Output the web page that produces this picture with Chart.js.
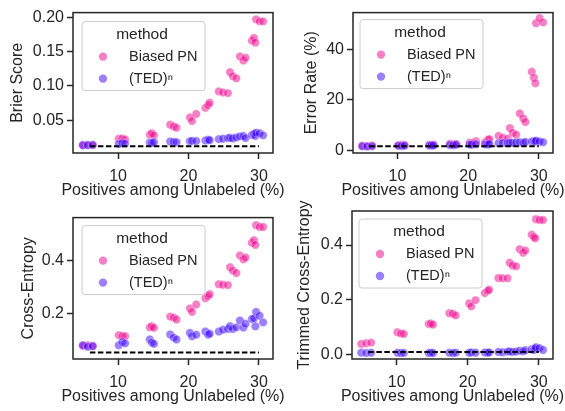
<!DOCTYPE html>
<html>
<head>
<meta charset="utf-8">
<script src="https://cdn.jsdelivr.net/npm/chart.js@4.4.1/dist/chart.umd.min.js"></script>
<style>
  html, body { margin: 0; padding: 0; background: #fff; }
  #wrap { position: relative; width: 565px; height: 411px; }
  canvas { position: absolute; }
</style>
</head>
<body>
<div id="wrap">
  <canvas id="brier" width="292" height="205" style="left:0;top:0"></canvas>
  <canvas id="error" width="283" height="205" style="left:282px;top:0"></canvas>
  <canvas id="ce" width="292" height="206" style="left:0;top:205px"></canvas>
  <canvas id="tce" width="283" height="226" style="left:282px;top:185px"></canvas>
</div>
<script>
// positives among unlabeled (%) for each run, shared by both methods
const posUnlabeled = [
  5.0, 5.7, 6.4, 10.1, 10.6, 11.0, 14.5, 14.8, 15.1, 17.4, 17.9, 18.3,
  20.2, 20.5, 21.1, 22.4, 22.8, 23.0, 24.3, 24.9, 25.6, 25.9, 26.3, 26.8,
  27.3, 27.8, 28.1, 29.0, 29.3, 29.5, 29.6, 30.1, 30.6
];

const methods = ["Biased PN", "(TED)ⁿ"];

const brierPN = [
  0.014, 0.0135, 0.0145, 0.023, 0.0235, 0.022, 0.029, 0.031, 0.028, 0.0435, 0.041, 0.039,
  0.054, 0.049, 0.059, 0.068, 0.072, 0.0755, 0.092, 0.0905, 0.0895, 0.12, 0.114, 0.111,
  0.143, 0.137, 0.141, 0.166, 0.17, 0.163, 0.197, 0.194, 0.194
];
const brierTED = [
  0.0135, 0.014, 0.0138, 0.0155, 0.0165, 0.016, 0.0175, 0.017, 0.018, 0.019, 0.0185, 0.018,
  0.0195, 0.02, 0.0198, 0.0205, 0.0215, 0.021, 0.0225, 0.023, 0.024, 0.0245, 0.0235, 0.025,
  0.0265, 0.027, 0.024, 0.0285, 0.03, 0.027, 0.032, 0.031, 0.028
];

const errorPN = [
  1.8, 1.7, 1.9, 2.0, 2.2, 2.1, 2.2, 2.0, 2.3, 2.6, 2.4, 2.5,
  3.0, 2.8, 3.6, 3.2, 4.2, 4.4, 5.7, 5.0, 4.6, 8.8, 6.9, 6.2,
  14.6, 12.6, 11.2, 31.2, 28.8, 26.6, 50.5, 52.5, 50.8
];
const errorTED = [
  1.6, 1.5, 1.6, 1.8, 1.7, 1.8, 1.9, 2.0, 1.9, 2.1, 2.0, 2.2,
  2.3, 2.2, 2.4, 2.4, 2.3, 2.5, 2.8, 2.9, 3.0, 2.9, 3.0, 3.1,
  3.2, 3.0, 3.3, 3.5, 3.6, 3.4, 3.8, 3.5, 3.2
];

const cePN = [
  0.075, 0.078, 0.076, 0.116, 0.113, 0.112, 0.146, 0.15, 0.144, 0.187, 0.183, 0.176,
  0.218, 0.205, 0.233, 0.257, 0.265, 0.272, 0.31, 0.308, 0.307, 0.375, 0.362, 0.353,
  0.42, 0.405, 0.412, 0.468, 0.478, 0.46, 0.535, 0.528, 0.528
];
const ceTED = [
  0.078, 0.072, 0.074, 0.078, 0.09, 0.085, 0.1, 0.088, 0.083, 0.119, 0.107, 0.1,
  0.125, 0.112, 0.118, 0.13, 0.118, 0.122, 0.13, 0.137, 0.14, 0.15, 0.14, 0.146,
  0.172, 0.145, 0.16, 0.178, 0.18, 0.15, 0.205, 0.19, 0.165
];

const tcePN = [
  0.037, 0.04, 0.042, 0.08, 0.075, 0.074, 0.11, 0.112, 0.108, 0.15, 0.148, 0.142,
  0.186, 0.175, 0.198, 0.224, 0.232, 0.236, 0.279, 0.278, 0.278, 0.335, 0.325, 0.322,
  0.385, 0.372, 0.38, 0.438, 0.43, 0.425, 0.495, 0.492, 0.492
];
const tceTED = [
  0.005, 0.004, 0.005, 0.005, 0.004, 0.004, 0.004, 0.005, 0.004, 0.005, 0.004, 0.005,
  0.005, 0.006, 0.005, 0.006, 0.005, 0.006, 0.008, 0.007, 0.009, 0.01, 0.008, 0.009,
  0.012, 0.01, 0.014, 0.018, 0.015, 0.02, 0.025, 0.022, 0.015
];

// dashed reference (oracle) level per panel, drawn between these x values
const dashX = [6, 30];
const refBrier = 0.0122;
const refError = 1.6;
const refCE = 0.05;
const refTCE = 0.008;

const xTicks = [10, 20, 30];
const brierTicks = ["0.05", "0.10", "0.15", "0.20"];
const errorTicks = ["0", "20", "40"];
const ceTicks = ["0.2", "0.4"];
const tceTicks = ["0.0", "0.2", "0.4"];
const xTitle = "Positives among Unlabeled (%)";

const INK = "#262626";
const PINK = "rgba(240, 0, 140, 0.5)";
const BLUE = "rgba(55, 0, 255, 0.5)";
const FONT = '"Liberation Sans", Arial, sans-serif';

Chart.defaults.font.family = FONT;
Chart.defaults.font.size = 16;
Chart.defaults.color = INK;

// spines, axis titles (drawn unsqueezed) and the in-plot legend
const framePlugin = {
  id: "frame",
  afterDatasetsDraw(chart) {
    const { ctx, chartArea: a } = chart;
    ctx.save();
    ctx.strokeStyle = INK;
    ctx.lineWidth = 1.5;
    ctx.strokeRect(a.left, a.top, a.right - a.left, a.bottom - a.top);
    ctx.restore();
  },
  afterDraw(chart, args, opts) {
    const { ctx, chartArea: a } = chart;
    ctx.save();
    ctx.fillStyle = INK;
    ctx.font = "16px " + FONT;
    ctx.textAlign = "center";
    ctx.textBaseline = "middle";
    ctx.fillText(xTitle, (a.left + a.right) / 2, a.bottom + 38);
    ctx.save();
    ctx.translate(opts.yTitleX, (a.top + a.bottom) / 2);
    ctx.rotate(-Math.PI / 2);
    ctx.fillText(opts.yTitle, 0, 0);
    ctx.restore();

    const bx = a.left + opts.dx;
    const by = a.top + opts.dy;
    ctx.beginPath();
    ctx.roundRect(bx, by, 123, 69, 3);
    ctx.fillStyle = "rgba(255,255,255,0.8)";
    ctx.fill();
    ctx.strokeStyle = "#cccccc";
    ctx.lineWidth = 1;
    ctx.stroke();
    ctx.fillStyle = INK;
    ctx.font = "15.5px " + FONT;
    ctx.fillText("method", bx + 60, by + 13);
    ctx.textAlign = "left";
    ctx.font = "14.5px " + FONT;
    [PINK, BLUE].forEach((c, i) => {
      const y = by + 35 + i * 22;
      ctx.beginPath();
      ctx.arc(bx + 21, y, 4.2, 0, Math.PI * 2);
      ctx.fillStyle = c;
      ctx.fill();
      ctx.fillStyle = INK;
      ctx.fillText(methods[i], bx + 47, y);
    });
    ctx.restore();
  }
};

function points(ys) {
  return posUnlabeled.map((x, i) => ({ x, y: ys[i] }));
}

function makePanel(id, p) {
  const tickVals = p.yLabels.map(Number);
  new Chart(document.getElementById(id), {
    type: "scatter",
    data: {
      datasets: [
        {
          label: "oracle",
          data: dashX.map((x) => ({ x, y: p.ref })),
          showLine: true,
          borderColor: "#000",
          borderWidth: 2,
          borderDash: [5.5, 2.5],
          pointRadius: 0,
          order: 0
        },
        {
          label: methods[1],
          data: points(p.ted),
          backgroundColor: BLUE,
          borderColor: "rgba(255,255,255,0.6)",
          borderWidth: 0.6,
          pointRadius: 4.2,
          order: 1
        },
        {
          label: methods[0],
          data: points(p.pn),
          backgroundColor: PINK,
          borderColor: "rgba(255,255,255,0.6)",
          borderWidth: 0.6,
          pointRadius: 4.2,
          order: 2
        }
      ]
    },
    options: {
      responsive: false,
      animation: false,
      devicePixelRatio: 1,
      layout: { padding: { top: p.padTop, right: p.padRight, left: 0, bottom: 0 } },
      plugins: {
        legend: { display: false },
        tooltip: { enabled: false },
        frame: { dx: p.legX, dy: p.legY, yTitle: p.yTitle, yTitleX: p.yTitleX }
      },
      scales: {
        x: {
          type: "linear",
          min: p.xMin,
          max: 32,
          afterBuildTicks: (axis) => { axis.ticks = xTicks.map((v) => ({ value: v })); },
          afterFit: (axis) => { axis.height = p.xAxisH; },
          grid: { drawOnChartArea: false, tickLength: 6, tickWidth: 1.5, tickColor: INK },
          border: { display: false },
          ticks: { padding: 8, color: INK, maxRotation: 0 }
        },
        y: {
          type: "linear",
          min: p.yMin,
          max: p.yMax,
          afterBuildTicks: (axis) => { axis.ticks = tickVals.map((v) => ({ value: v })); },
          afterFit: (axis) => { axis.width = p.yAxisW; },
          grid: { drawOnChartArea: false, tickLength: 6, tickWidth: 1.5, tickColor: INK },
          border: { display: false },
          ticks: {
            padding: 3,
            color: INK,
            callback: (v) => p.yLabels[tickVals.indexOf(v)]
          }
        }
      }
    },
    plugins: [framePlugin]
  });
}

makePanel("brier", {
  pn: brierPN, ted: brierTED, ref: refBrier,
  yTitle: "Brier Score", yLabels: brierTicks, yTitleX: 18,
  yMin: 0.0023, yMax: 0.2068, xMin: 3.6,
  padTop: 3, padRight: 19, yAxisW: 73, xAxisH: 52,
  legX: 9, legY: 9
});
makePanel("error", {
  pn: errorPN, ted: errorTED, ref: refError,
  yTitle: "Error Rate (%)", yLabels: errorTicks, yTitleX: 29.7,
  yMin: -1.1, yMax: 54.7, xMin: 3.7,
  padTop: 5, padRight: 12, yAxisW: 71, xAxisH: 52,
  legX: 7, legY: 7
});
makePanel("ce", {
  pn: cePN, ted: ceTED, ref: refCE,
  yTitle: "Cross-Entropy", yLabels: ceTicks, yTitleX: 28.3,
  yMin: 0.0255, yMax: 0.564, xMin: 3.6,
  padTop: 6, padRight: 19, yAxisW: 73, xAxisH: 52,
  legX: 9, legY: 8
});
makePanel("tce", {
  pn: tcePN, ted: tceTED, ref: refTCE,
  yTitle: "Trimmed Cross-Entropy", yLabels: tceTicks, yTitleX: 23,
  yMin: -0.018, yMax: 0.525, xMin: 3.7,
  padTop: 26, padRight: 12, yAxisW: 70, xAxisH: 52,
  legX: 7, legY: 8
});
</script>
</body>
</html>
